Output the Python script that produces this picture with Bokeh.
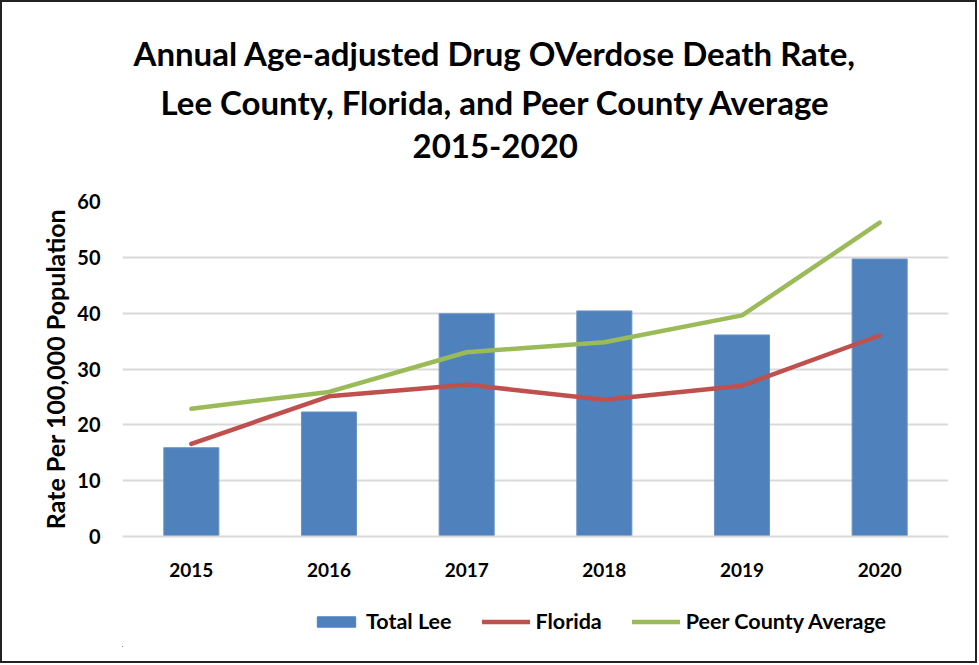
from bokeh.plotting import figure
from bokeh.layouts import column
from bokeh.models import Title, Legend, LegendItem, Range1d, FactorRange, ColumnDataSource
from bokeh.embed import file_html
from bokeh.resources import INLINE

years = ["2015", "2016", "2017", "2018", "2019", "2020"]
total_lee = [15.9, 22.3, 39.9, 40.4, 36.1, 49.7]
florida = [16.6, 25.1, 27.2, 24.5, 27.0, 36.0]
peer_avg = [22.9, 25.9, 33.0, 34.8, 39.6, 56.2]
title_lines = ["Annual Age-adjusted Drug OVerdose Death Rate,",
               "Lee County, Florida, and Peer County Average",
               "2015-2020"]
y_label = "Rate Per 100,000 Population"
series_names = ["Total Lee", "Florida", "Peer County Average"]

FONT = "Lato"
BLUE, RED, GREEN = "#4F81BD", "#C0504D", "#9BBB59"
src = ColumnDataSource(dict(year=years, lee=total_lee, fl=florida, peer=peer_avg))

p = figure(x_range=FactorRange(*years, range_padding=0), y_range=Range1d(0, 60),
           frame_width=826, frame_height=335, output_backend="svg", toolbar_location=None,
           min_border_left=120, min_border_right=27, min_border_bottom=60, min_border_top=199)
p.outline_line_color = None
p.background_fill_color = "white"
p.border_fill_color = "white"

p.vbar(x="year", top="lee", width=0.4, source=src, fill_color=BLUE, line_color="#6A93C8", line_width=1)
p.line(x="year", y="fl", source=src, line_color=RED, line_width=4.5, line_cap="round", line_join="round")
p.line(x="year", y="peer", source=src, line_color=GREEN, line_width=4.5, line_cap="round", line_join="round")

# title lines: first added sits closest to the plot
p.add_layout(Title(text=" ", text_font_size="14px", standoff=19), "above")
title_offsets = [11, 38, 290]
title_standoffs = [6, 7.5, 12.75]
for txt, off, so in reversed(list(zip(title_lines, title_offsets, title_standoffs))):
    p.add_layout(Title(text=txt, align="left", offset=off, standoff=so, text_font=FONT,
                       text_font_style="bold", text_font_size="33px", text_color="black"), "above")

p.yaxis.ticker = [0, 10, 20, 30, 40, 50, 60]
p.yaxis.axis_line_color = None
p.yaxis.major_tick_line_color = None
p.yaxis.minor_tick_line_color = None
p.yaxis.major_label_text_font = FONT
p.yaxis.major_label_text_font_style = "bold"
p.yaxis.major_label_text_font_size = "20px"
p.yaxis.major_label_text_color = "black"
p.yaxis.major_label_standoff = 16
p.yaxis.axis_label = y_label
p.yaxis.axis_label_text_font = FONT
p.yaxis.axis_label_text_font_style = "bold"
p.yaxis.axis_label_text_font_size = "25px"
p.yaxis.axis_label_text_color = "black"
p.yaxis.axis_label_standoff = 4

p.xaxis.axis_line_color = "#D9D9D9"
p.xaxis.axis_line_width = 2
p.xaxis.major_tick_line_color = None
p.xaxis.minor_tick_line_color = None
p.xaxis.major_label_text_font = FONT
p.xaxis.major_label_text_font_style = "bold"
p.xaxis.major_label_text_font_size = "19px"
p.xaxis.major_label_text_color = "black"
p.xaxis.major_label_standoff = 20

p.xgrid.grid_line_color = None
p.ygrid.grid_line_color = "#D9D9D9"
p.ygrid.grid_line_width = 2

# legend strip below the chart (its sample renderers lie outside its visible range)
lf = figure(width=973, height=65, output_backend="svg", toolbar_location=None,
            x_range=Range1d(100, 101), y_range=Range1d(100, 101),
            x_axis_type=None, y_axis_type=None, min_border_left=14, min_border_right=0,
            min_border_top=0, min_border_bottom=15)
lf.outline_line_color = None
lf.grid.visible = False
idx = list(range(len(years)))
lr1 = lf.vbar(x=idx, top=total_lee, width=0.4, fill_color=BLUE, line_color=BLUE)
lr2 = lf.line(x=idx, y=florida, line_color=RED, line_width=4.5, line_cap="round")
lr3 = lf.line(x=idx, y=peer_avg, line_color=GREEN, line_width=4.5, line_cap="round")
legend = Legend(items=[LegendItem(label=series_names[0], renderers=[lr1]),
                       LegendItem(label=series_names[1], renderers=[lr2]),
                       LegendItem(label=series_names[2], renderers=[lr3])],
                orientation="horizontal", location=(190, 12),
                border_line_color=None, background_fill_alpha=0,
                label_text_font=FONT, label_text_font_style="bold", label_text_font_size="21.5px",
                label_text_color="black", glyph_width=48, glyph_height=13,
                label_standoff=6, spacing=30, margin=0, padding=0)
lf.add_layout(legend, "center")

layout = column(p, lf, spacing=0, styles={"border": "2px solid #222222"})
open("out.html", "w").write(file_html(layout, INLINE))
